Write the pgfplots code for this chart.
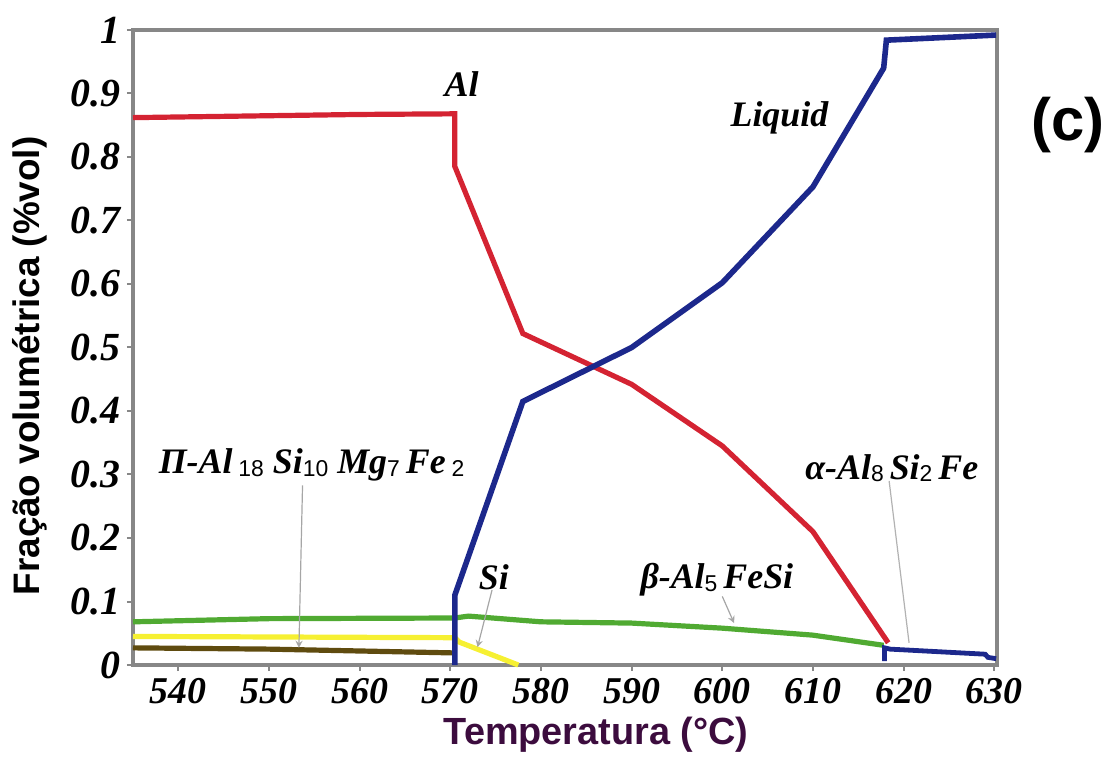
\documentclass[border=0pt]{standalone}
\usepackage{pgfplots}
\pgfplotsset{compat=1.18}
\usepackage{fontspec}
\setmainfont{Liberation Serif}
\setsansfont{Liberation Sans}
\definecolor{cRed}{RGB}{212,35,50}
\definecolor{cBlue}{RGB}{28,40,140}
\definecolor{cGreen}{RGB}{80,170,50}
\definecolor{cYellow}{RGB}{246,240,50}
\definecolor{cBrown}{RGB}{95,75,15}
\definecolor{cPurple}{RGB}{60,12,62}
\definecolor{cFrame}{RGB}{135,135,135}
\newcommand{\sub}[1]{\raisebox{-0.15ex}{\fontsize{11.5}{12}\selectfont\sffamily\upshape\mdseries #1}}
\begin{document}
\begin{tikzpicture}
\begin{axis}[
  name=ax,
  scale only axis, width=432bp, height=317.5bp,
  xmin=535, xmax=630.3, ymin=0, ymax=1,
  xtick={540,550,560,570,580,590,600,610,620,630},
  ytick={0,0.1,0.2,0.3,0.4,0.5,0.6,0.7,0.8,0.9,1},
  xtick pos=bottom, ytick pos=left,
  tick align=outside, major tick length=3bp,
  tick style={cFrame, line width=1bp},
  axis line style={cFrame, line width=2bp},
  /pgf/number format/assume math mode=true,
  xticklabel style={font=\fontsize{19}{19}\selectfont\bfseries\itshape},
  yticklabel style={font=\fontsize{20}{20}\selectfont\bfseries\itshape},
  xlabel={Temperatura (°C)},
  xlabel style={font=\sffamily\bfseries\fontsize{19}{19}\selectfont, text=cPurple,
    at={(axis description cs:0.536,0)}, anchor=north, inner sep=0pt, yshift=-26bp},
  ylabel={Fração volumétrica (\%vol)},
  ylabel style={font=\sffamily\bfseries\fontsize{18.5}{19}\selectfont, text=black,
    at={(axis description cs:-0.119,0.471)}, anchor=center, inner sep=0pt},
  clip=false,
]
% beta-Al5FeSi (green)
\addplot[cGreen, line width=2.6bp] coordinates {
 (535,0.068) (550,0.073) (570.5,0.074) (572,0.077) (580,0.068) (590,0.066)
 (600,0.058) (610,0.047) (617.8,0.031)};
% Si (yellow)
\addplot[cYellow, line width=2.6bp] coordinates {
 (535,0.045) (570.5,0.043) (571,0.036) (577.5,0.0)};
% Pi phase (brown)
\addplot[cBrown, line width=2.6bp] coordinates {
 (535,0.027) (550,0.025) (570.5,0.019)};
% Al (red)
\addplot[cRed, line width=2.6bp] coordinates {
 (535,0.862) (550,0.865) (560,0.867) (570.5,0.868) (570.5,0.785)
 (578,0.522) (590,0.442) (600,0.345) (610,0.21) (618.3,0.035)};
% Liquid (blue)
\addplot[cBlue, line width=2.8bp] coordinates {
 (570.5,0) (570.5,0.11) (578,0.415) (590,0.50) (600,0.602) (610,0.753)
 (617.8,0.94) (618.1,0.984) (630.2,0.992)};
% alpha-Al8Si2Fe (blue)
\addplot[cBlue, line width=2.4bp] coordinates {
 (617.9,0.006) (617.9,0.027) (618.5,0.025) (629,0.017) (629.3,0.012) (630.2,0.010)};

% annotations
\begin{scope}[font=\fontsize{18}{18}\selectfont\bfseries\itshape]
\node at (axis cs:571.25,0.915) {Al};
\node at (axis cs:606.3,0.861) {Liquid};
\node at (axis cs:554.7,0.315) {Π-Al\,\sub{18} Si\sub{10} Mg\sub{7}\,Fe\,\sub{2}};
\node at (axis cs:574.8,0.139) {Si};
\node at (axis cs:599.4,0.134) {β-Al\sub{5}\,FeSi};
\node at (axis cs:618.7,0.310) {α-Al\sub{8}\,Si\sub{2}\,Fe};
\end{scope}
\draw[gray!70, line width=0.6bp, -stealth] (axis cs:553.7,0.283) -- (axis cs:553.3,0.027);
\draw[gray!70, line width=0.6bp, -stealth] (axis cs:574.6,0.118) -- (axis cs:573.0,0.028);
\draw[gray!70, line width=0.6bp, -stealth] (axis cs:600.0,0.108) -- (axis cs:601.3,0.066);
\draw[gray!60, line width=0.6bp] (axis cs:618.4,0.290) -- (axis cs:620.6,0.035);
\node[font=\sffamily\bfseries\fontsize{30}{30}\selectfont] at (axis description cs:1.082,0.850) {(c)};
\end{axis}
\pgfresetboundingbox
\path ([shift={(-66.5bp,-48.5bp)}]ax.south west) rectangle ([shift={(489.5bp,332.5bp)}]ax.south west);
\end{tikzpicture}
\end{document}
